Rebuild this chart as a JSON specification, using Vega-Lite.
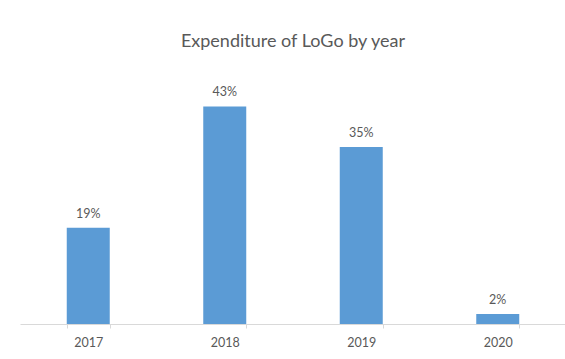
{
  "$schema": "https://vega.github.io/schema/vega-lite/v6.json",
  "autosize": "none",
  "width": 546,
  "height": 253,
  "padding": {"left": 20, "top": 71, "right": 0, "bottom": 35},
  "background": "white",
  "title": {
    "text": "Expenditure of LoGo by year",
    "font": "Lato",
    "fontSize": 18,
    "fontWeight": "normal",
    "color": "#595959",
    "anchor": "middle",
    "offset": 20
  },
  "data": {
    "values": [
      {"year": "2017", "share": 0.19},
      {"year": "2018", "share": 0.43},
      {"year": "2019", "share": 0.35},
      {"year": "2020", "share": 0.02}
    ]
  },
  "encoding": {
    "x": {
      "field": "year",
      "type": "nominal",
      "scale": {"paddingInner": 0.685, "paddingOuter": 0.3425},
      "axis": {
        "title": null,
        "labelAngle": 0,
        "labelFont": "Lato",
        "labelFontSize": 12.5,
        "labelColor": "#595959",
        "labelPadding": 8,
        "domainColor": "#d9d9d9",
        "tickColor": "#d9d9d9",
        "tickSize": 4,
        "tickBand": "extent"
      }
    },
    "y": {
      "field": "share",
      "type": "quantitative",
      "scale": {"domain": [0, 0.5]},
      "axis": null
    }
  },
  "layer": [
    {"mark": {"type": "bar", "color": "#5b9bd5"}},
    {
      "mark": {"type": "text", "baseline": "bottom", "dy": -7, "font": "Lato", "fontSize": 12.5, "color": "#595959"},
      "encoding": {"text": {"field": "share", "type": "quantitative", "format": ".0%"}}
    }
  ],
  "config": {"view": {"stroke": null}}
}
